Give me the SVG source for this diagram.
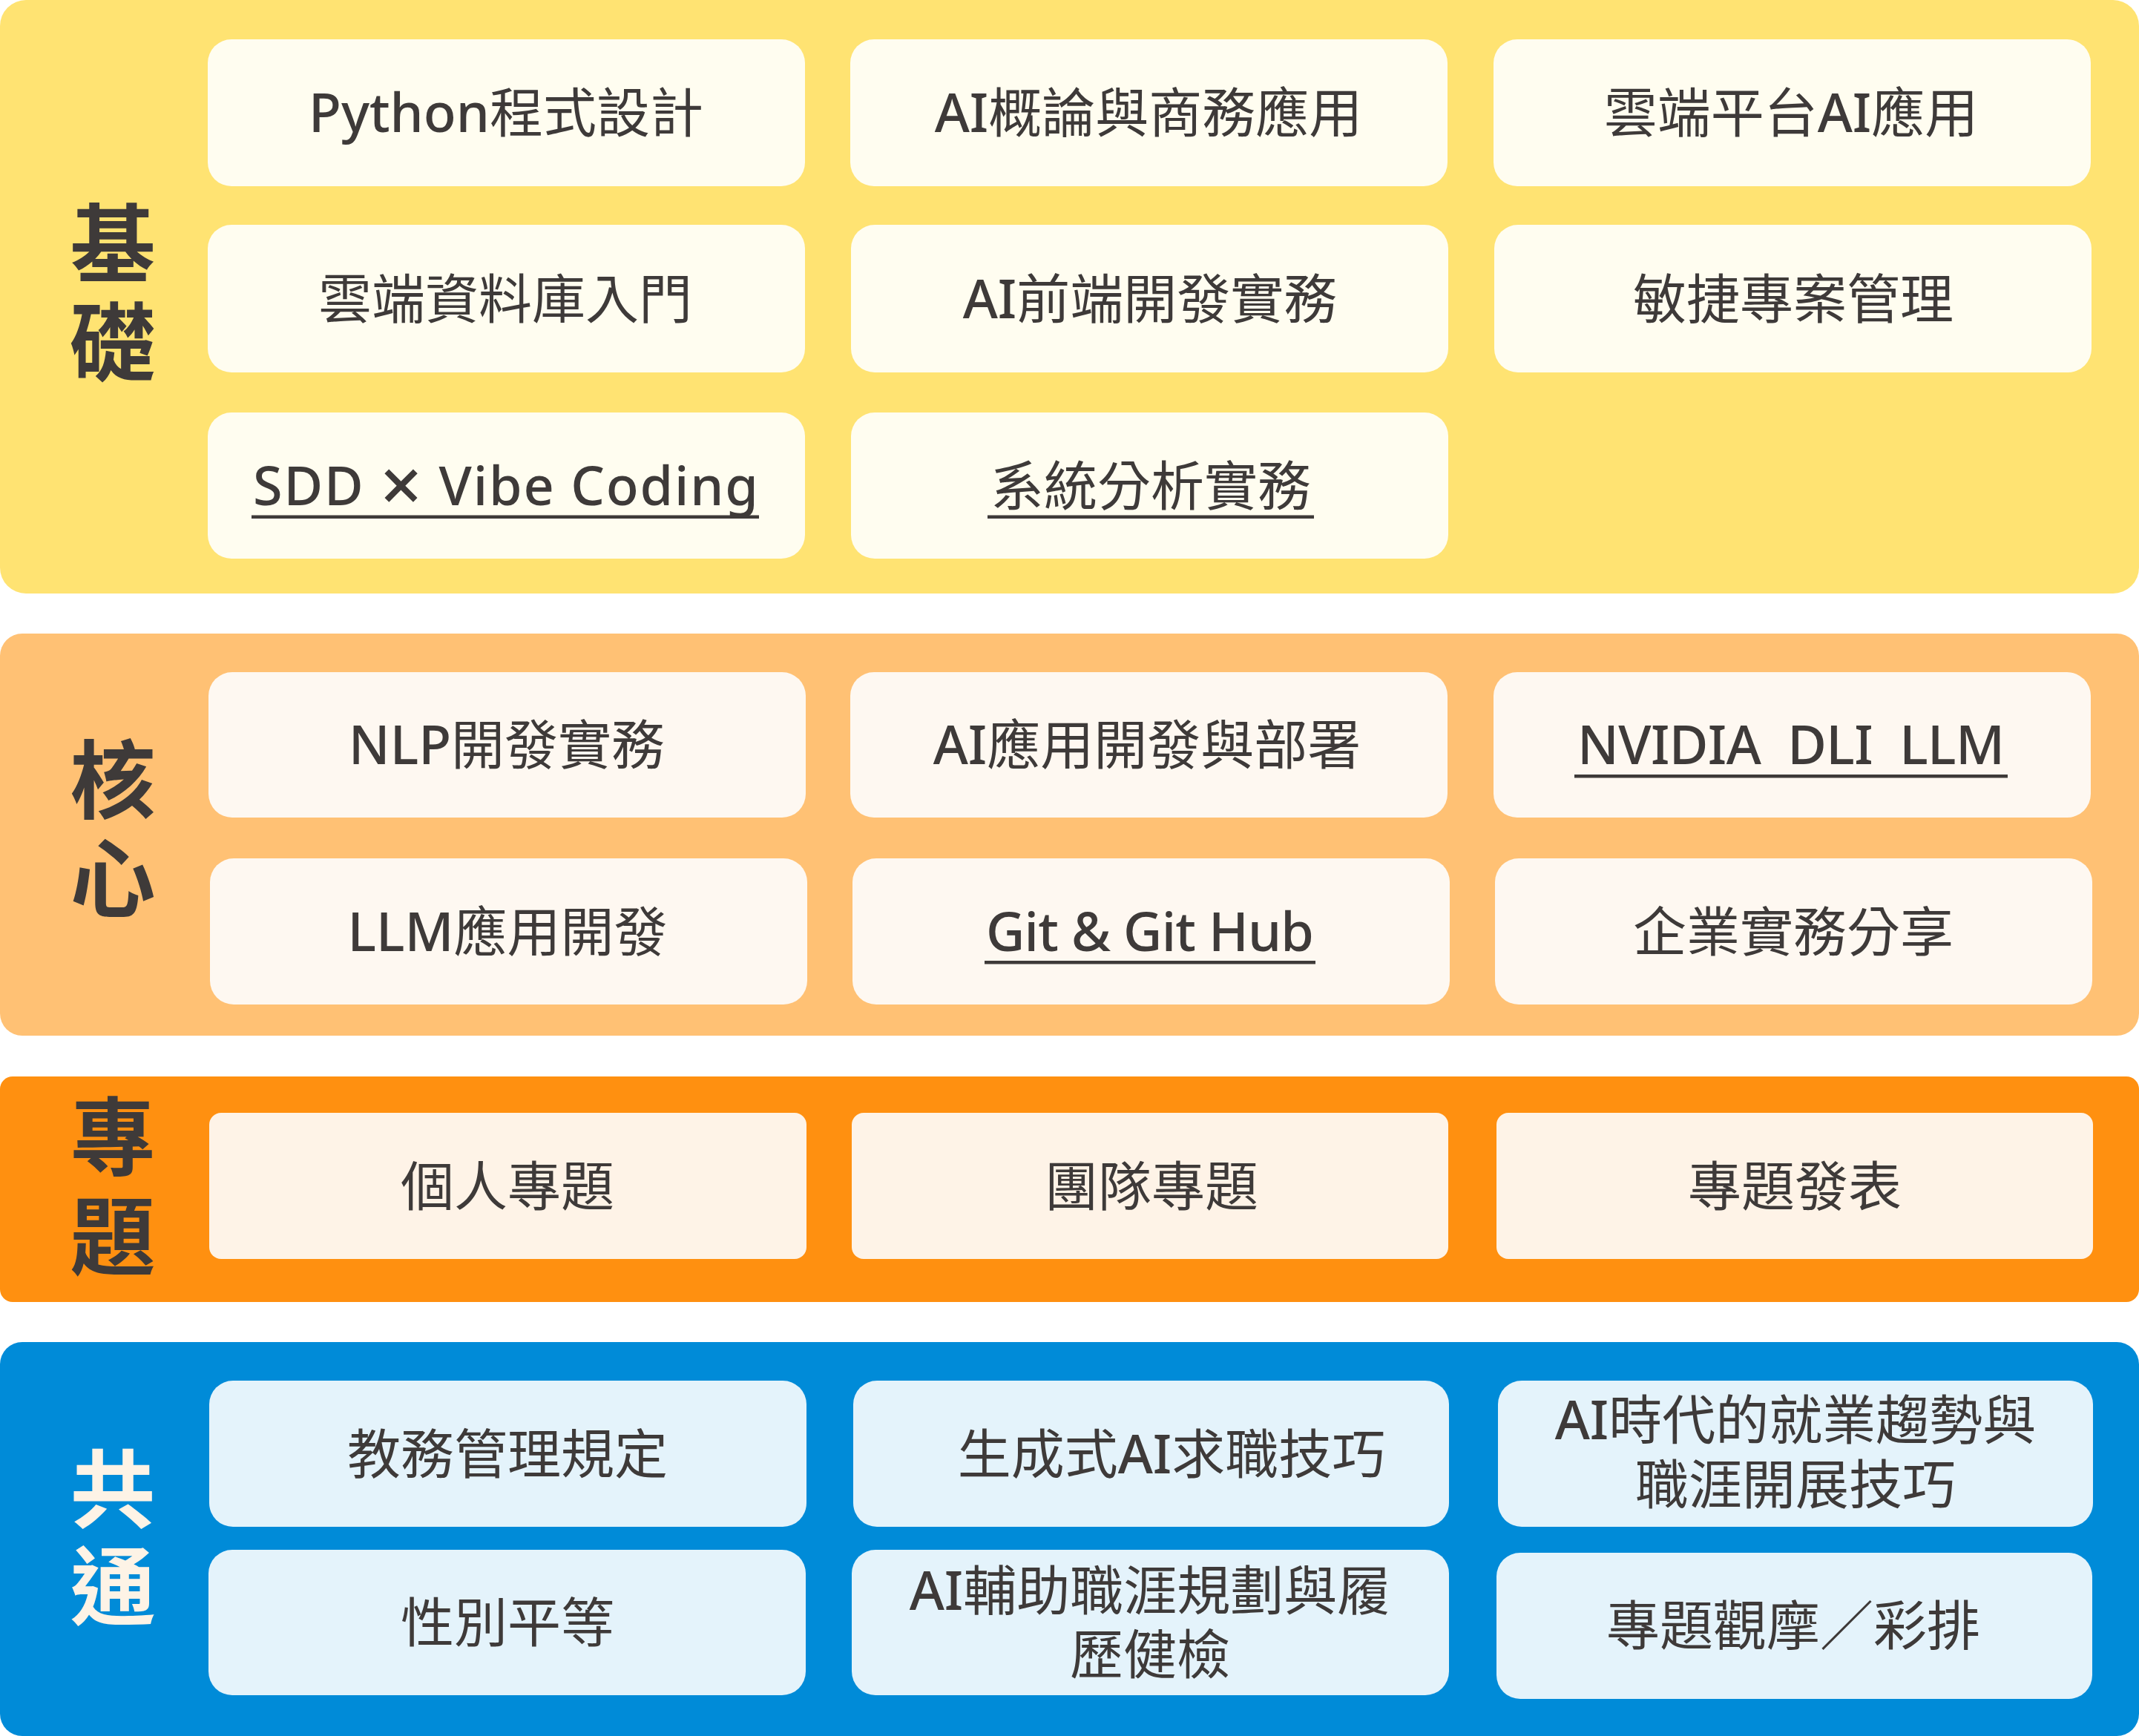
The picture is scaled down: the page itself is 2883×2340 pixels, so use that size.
<svg xmlns="http://www.w3.org/2000/svg" width="2883" height="2340" viewBox="0 0 2883 2340">
<style>
.t{font-family:"Noto Sans","Noto Sans CJK TC",sans-serif;font-size:72px;fill:#3E3A39;text-anchor:middle}
.ts{font-family:"Noto Sans","Noto Sans CJK TC",sans-serif;font-size:72px;fill:#3E3A39}
.m{font-weight:500}
.x{font-size:100px}
.lbl{font-family:"Noto Sans CJK TC",sans-serif;font-size:115px;font-weight:700;fill:#3E3A39;text-anchor:middle}
.lbl-w{fill:#FDF3E6}
.ul{fill:#3E3A39}
.by{fill:#FFE372}.bxy{fill:#FFFDF0}
.blo{fill:#FFC174}.bxlo{fill:#FEF8F1}
.bo{fill:#FF9010}.bxo{fill:#FEF3E7}
.bb{fill:#008BD8}.bxb{fill:#E4F3FB}
</style>
<rect width="2883" height="2340" fill="#FFFFFF"/>
<g id="layer-basic">
<rect class="by" x="0" y="0" width="2883" height="800" rx="35"/>
<text class="lbl"><tspan x="152" y="371">基</tspan><tspan x="152" y="504">礎</tspan></text>
</g>
<g id="layer-core">
<rect class="blo" x="0" y="854" width="2883" height="542" rx="30"/>
<text class="lbl"><tspan x="152" y="1094">核</tspan><tspan x="152" y="1227">心</tspan></text>
</g>
<g id="layer-project">
<rect class="bo" x="0" y="1451" width="2883" height="304" rx="17"/>
<text class="lbl"><tspan x="152" y="1575">專</tspan><tspan x="152" y="1709">題</tspan></text>
</g>
<g id="layer-common">
<rect class="bb" x="0" y="1809" width="2883" height="531" rx="30"/>
<text class="lbl lbl-w"><tspan x="152" y="2050">共</tspan><tspan x="152" y="2181">通</tspan></text>
</g>

<g id="n-python"><rect class="bxy" x="280" y="53" width="805" height="198" rx="32"/><text class="t" x="682" y="178"><tspan class="m">Python</tspan>程式設計</text></g>
<g id="n-ai-intro"><rect class="bxy" x="1146" y="53" width="805" height="198" rx="32"/><text class="t" x="1548" y="178"><tspan class="m">AI</tspan>概論與商務應用</text></g>
<g id="n-cloud-ai"><rect class="bxy" x="2013" y="53" width="805" height="198" rx="32"/><text class="t" x="2414" y="178">雲端平台<tspan class="m">AI</tspan>應用</text></g>
<g id="n-cloud-db"><rect class="bxy" x="280" y="303" width="805" height="199" rx="32"/><text class="t" x="681" y="428.5">雲端資料庫入門</text></g>
<g id="n-ai-frontend"><rect class="bxy" x="1147" y="303" width="805" height="199" rx="32"/><text class="t" x="1550" y="428.5"><tspan class="m">AI</tspan>前端開發實務</text></g>
<g id="n-agile"><rect class="bxy" x="2014" y="303" width="805" height="199" rx="32"/><text class="t" x="2417" y="428.5">敏捷專案管理</text></g>
<g id="n-sdd"><rect class="bxy" x="280" y="556" width="805" height="197" rx="32"/><text class="ts m" x="341" y="680.5" textLength="681">SDD <tspan class="x" dy="9">×</tspan><tspan dy="-9"> Vibe Coding</tspan></text><rect class="ul" x="339" y="694.5" width="684" height="4.5"/></g>
<g id="n-sa"><rect class="bxy" x="1147" y="556" width="805" height="197" rx="32"/><text class="t" x="1551" y="680.5">系統分析實務</text><rect class="ul" x="1331" y="694.5" width="440" height="4.5"/></g>

<g id="n-nlp"><rect class="bxlo" x="281" y="906" width="805" height="196" rx="32"/><text class="t" x="683" y="1030"><tspan class="m">NLP</tspan>開發實務</text></g>
<g id="n-ai-deploy"><rect class="bxlo" x="1146" y="906" width="805" height="196" rx="32"/><text class="t" x="1546" y="1030"><tspan class="m">AI</tspan>應用開發與部署</text></g>
<g id="n-nvidia"><rect class="bxlo" x="2013" y="906" width="805" height="196" rx="32"/><text class="ts m" x="2126" y="1030" textLength="576" xml:space="preserve">NVIDIA  DLI  LLM</text><rect class="ul" x="2122" y="1044" width="584" height="4.5"/></g>
<g id="n-llm"><rect class="bxlo" x="283" y="1157" width="805" height="197" rx="32"/><text class="t" x="684" y="1281.5"><tspan class="m">LLM</tspan>應用開發</text></g>
<g id="n-git"><rect class="bxlo" x="1149" y="1157" width="805" height="197" rx="32"/><text class="ts m" x="1329" y="1281.5" textLength="442">Git &amp; Git Hub</text><rect class="ul" x="1327" y="1295" width="446" height="4.5"/></g>
<g id="n-industry"><rect class="bxlo" x="2015" y="1157" width="805" height="197" rx="32"/><text class="t" x="2417" y="1281.5">企業實務分享</text></g>

<g id="n-personal"><rect class="bxo" x="282" y="1500" width="805" height="197" rx="16"/><text class="t" x="684" y="1624.5">個人專題</text></g>
<g id="n-team"><rect class="bxo" x="1148" y="1500" width="804" height="197" rx="16"/><text class="t" x="1552" y="1624.5">團隊專題</text></g>
<g id="n-present"><rect class="bxo" x="2017" y="1500" width="804" height="197" rx="16"/><text class="t" x="2419" y="1624.5">專題發表</text></g>

<g id="n-academic"><rect class="bxb" x="282" y="1861" width="805" height="197" rx="32"/><text class="t" x="684" y="1985.5">教務管理規定</text></g>
<g id="n-genai-job"><rect class="bxb" x="1150" y="1861" width="803" height="197" rx="32"/><text class="t" x="1579" y="1985.5">生成式<tspan class="m">AI</tspan>求職技巧</text></g>
<g id="n-ai-career"><rect class="bxb" x="2019" y="1861" width="802" height="197" rx="32"/><text class="t"><tspan x="2420" y="1940"><tspan class="m">AI</tspan>時代的就業趨勢與</tspan><tspan x="2420" y="2027">職涯開展技巧</tspan></text></g>
<g id="n-gender"><rect class="bxb" x="281" y="2089" width="805" height="196" rx="32"/><text class="t" x="684" y="2213">性別平等</text></g>
<g id="n-ai-resume"><rect class="bxb" x="1148" y="2089" width="805" height="196" rx="32"/><text class="t"><tspan x="1550" y="2170"><tspan class="m">AI</tspan>輔助職涯規劃與履</tspan><tspan x="1550" y="2256">歷健檢</tspan></text></g>
<g id="n-rehearsal"><rect class="bxb" x="2017" y="2093" width="803" height="197" rx="32"/><text class="t" x="2417" y="2217">專題觀摩／彩排</text></g>

<g id="connectors"/>
</svg>
